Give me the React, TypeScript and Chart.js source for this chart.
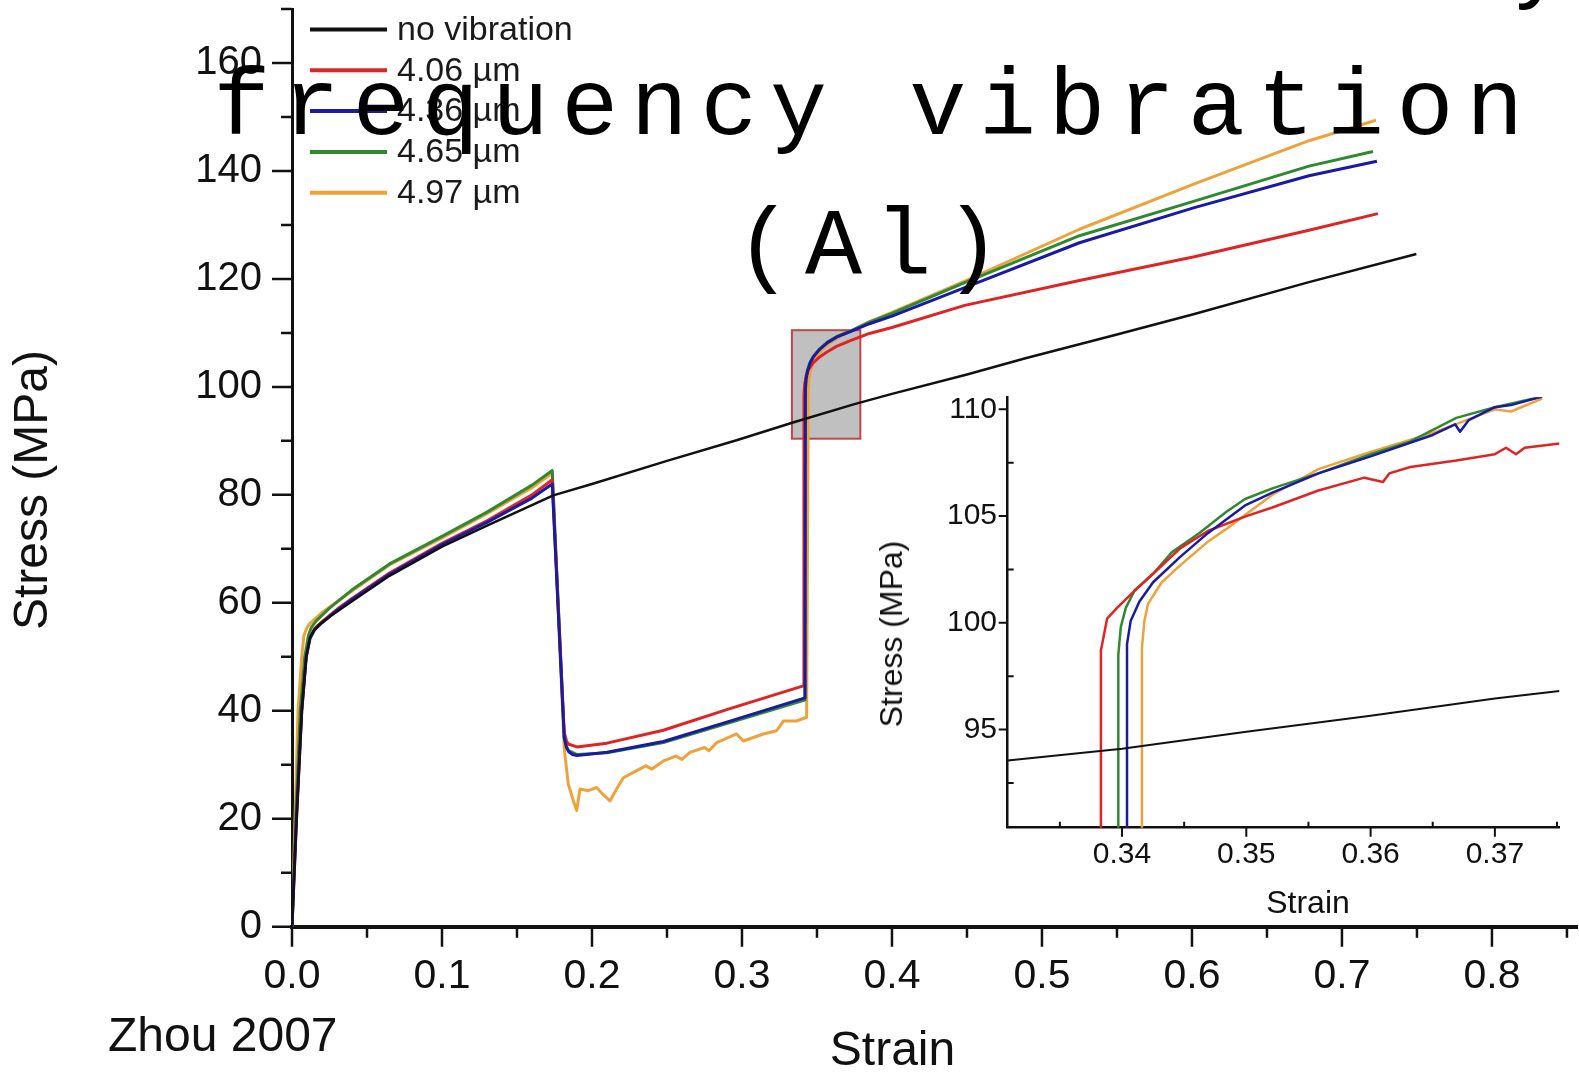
import React, { useEffect, useRef } from 'react';
import { Chart, registerables } from 'chart.js';

Chart.register(...registerables);

// ---------- Main chart data: [strain, stress (MPa)] ----------
const noVibration: [number, number][] = [
  [0, 0], [0.003, 20], [0.0065, 40], [0.0095, 50], [0.012, 53.6], [0.015, 55], [0.018, 55.9], [0.025, 57.4],
  [0.04, 60.3], [0.065, 65], [0.1, 70.4], [0.13, 74.3], [0.1742, 79.9], [0.2, 82], [0.25, 86.3],
  [0.2964, 90.1], [0.334, 93.4], [0.375, 96.8], [0.4, 98.7], [0.45, 102.3], [0.489, 105.3],
  [0.55, 109.7], [0.6016, 113.5], [0.678, 119.4], [0.7496, 124.6],
];
const amp406: [number, number][] = [
  [0, 0], [0.003, 20], [0.0065, 40], [0.0095, 50], [0.012, 53.5], [0.015, 55.2], [0.02, 56.5], [0.03, 58.8],
  [0.04, 60.8], [0.065, 65.5], [0.1, 71], [0.13, 75.2], [0.16, 80], [0.1735, 82.8], [0.1815, 36],
  [0.183, 34.4], [0.1845, 33.8], [0.19, 33.3], [0.21, 34], [0.2476, 36.4], [0.2909, 40.3], [0.3409, 44.6],
  [0.3413, 98.5], [0.3418, 100.5], [0.3428, 102], [0.3445, 103.3], [0.3476, 104.5], [0.352, 105.6],
  [0.3564, 106.4], [0.363, 107.5], [0.3727, 108.6], [0.385, 109.9], [0.4, 111], [0.4485, 115.1],
  [0.525, 119.7], [0.6016, 124.1], [0.678, 129], [0.724, 132.1],
];
const amp436: [number, number][] = [
  [0, 0], [0.003, 20], [0.0065, 40], [0.0095, 50], [0.012, 53.4], [0.015, 55], [0.02, 56.3], [0.03, 58.6],
  [0.04, 60.6], [0.065, 65.3], [0.1, 70.8], [0.13, 74.9], [0.16, 79.4], [0.1735, 82], [0.1815, 35],
  [0.183, 33.2], [0.1845, 32.4], [0.187, 31.9], [0.19, 31.7], [0.21, 32.3], [0.2476, 34.3], [0.2909, 38],
  [0.342, 42.4], [0.3423, 99.5], [0.3428, 101.5], [0.3438, 103], [0.3455, 104.5], [0.348, 105.7],
  [0.352, 107], [0.357, 108.2], [0.363, 109.2], [0.3727, 110.3], [0.385, 111.7], [0.4, 113.1],
  [0.4485, 118.4], [0.525, 126.7], [0.6016, 133.2], [0.678, 139.1], [0.7233, 141.8],
];
const amp465: [number, number][] = [
  [0, 0], [0.0025, 20], [0.0055, 40], [0.0085, 50], [0.011, 54], [0.013, 55.5], [0.016, 56.6], [0.025, 59],
  [0.04, 62.4], [0.065, 67.2], [0.1, 72.3], [0.13, 76.8], [0.16, 81.8], [0.1735, 84.5], [0.1815, 35],
  [0.183, 33.3], [0.1845, 32.6], [0.19, 31.9], [0.21, 32.2], [0.2476, 34.1], [0.2909, 37.7], [0.3418, 42],
  [0.342, 99.3], [0.3425, 101.5], [0.3435, 103], [0.3455, 104.6], [0.348, 105.8], [0.352, 107.1],
  [0.357, 108.3], [0.363, 109.3], [0.3727, 110.4], [0.385, 112], [0.4, 113.6], [0.4485, 119.3],
  [0.525, 128], [0.6016, 134.4], [0.678, 140.9], [0.7207, 143.6],
];
const amp497: [number, number][] = [
  [0, 0], [0.002, 20], [0.004, 40], [0.0065, 50], [0.008, 54], [0.01, 55.4], [0.012, 56.2], [0.02, 58.2],
  [0.04, 62.2], [0.065, 67], [0.1, 72], [0.13, 76.5], [0.16, 81.3], [0.1735, 84], [0.1815, 33],
  [0.1842, 26.4], [0.1876, 23.3], [0.1898, 21.5], [0.192, 25.5], [0.1976, 25.2], [0.2031, 25.8],
  [0.207, 24.6], [0.212, 23.3], [0.2164, 25.5], [0.2209, 27.6], [0.2298, 28.9], [0.236, 29.8],
  [0.24, 29.2], [0.2476, 30.7], [0.256, 31.6], [0.26, 31], [0.2653, 32.3], [0.275, 33.2],
  [0.278, 32.6], [0.2831, 34.1], [0.2964, 35.7], [0.3009, 34.4], [0.3142, 35.7], [0.3231, 36.3],
  [0.3276, 38.1], [0.3364, 38.1], [0.3431, 38.8], [0.3442, 99], [0.3447, 101.5], [0.3457, 103],
  [0.3475, 104.6], [0.35, 105.8], [0.354, 107.1], [0.36, 108.4], [0.366, 109.5], [0.3727, 110.4],
  [0.385, 112.1], [0.4, 113.8], [0.4485, 119.6], [0.525, 129.2], [0.6016, 137.6], [0.678, 145.6],
  [0.7227, 149.4],
];

// ---------- Inset (zoomed) data ----------
const insetNoVibration: [number, number][] = [
  [0.3308, 93.55], [0.34, 94.1], [0.35, 94.9], [0.36, 95.65], [0.37, 96.45], [0.3752, 96.8],
];
const inset406: [number, number][] = [
  [0.3383, 89], [0.3383, 98.7], [0.3388, 100.2], [0.3396, 100.7], [0.341, 101.5], [0.3425, 102.3],
  [0.3447, 103.5], [0.3469, 104.3], [0.35, 105.0], [0.3521, 105.4], [0.3558, 106.2], [0.3595, 106.8],
  [0.361, 106.6], [0.3615, 107.0], [0.3632, 107.3], [0.3669, 107.6], [0.37, 107.9], [0.3709, 108.2],
  [0.3717, 107.9], [0.3724, 108.2], [0.3752, 108.4],
];
const inset436: [number, number][] = [
  [0.3404, 89], [0.3404, 99], [0.3407, 100.1], [0.3414, 101.0], [0.3425, 101.9], [0.3447, 103.1],
  [0.3469, 104.2], [0.3499, 105.5], [0.3521, 106.1], [0.3558, 107.0], [0.36, 107.8], [0.365, 108.8],
  [0.3668, 109.3], [0.3672, 108.95], [0.3679, 109.5], [0.37, 110.1], [0.3713, 110.2], [0.3738, 110.6],
];
const inset465: [number, number][] = [
  [0.3397, 89], [0.3397, 98.5], [0.3399, 99.8], [0.3403, 100.7], [0.341, 101.5], [0.3425, 102.3],
  [0.344, 103.3], [0.3462, 104.2], [0.3484, 105.2], [0.3499, 105.8], [0.3521, 106.3], [0.3558, 107.0],
  [0.36, 107.9], [0.3632, 108.5], [0.3669, 109.6], [0.37, 110.1], [0.3738, 110.6],
];
const inset497: [number, number][] = [
  [0.3416, 89], [0.3416, 98.8], [0.3418, 100.1], [0.3421, 100.9], [0.3432, 101.9], [0.3447, 102.7],
  [0.3469, 103.8], [0.3484, 104.4], [0.35, 105.1], [0.3521, 106.0], [0.3558, 107.2], [0.36, 108.0],
  [0.365, 108.9], [0.37, 110.0], [0.3713, 109.9], [0.3738, 110.5],
];

const seriesLabels = ['no vibration', '4.06 µm', '4.36 µm', '4.65 µm', '4.97 µm'];
const seriesColors = ['#111111', '#de2424', '#1a1aa4', '#2f8a2f', '#eea23c'];
const seriesOrder = [0, 2, 1, 3, 4];

// ---------- Ticks ----------
const xMajorTicks = [0, 0.1, 0.2, 0.3, 0.4, 0.5, 0.6, 0.7, 0.8];
const xMinorTicks = [0.05, 0.15, 0.25, 0.35, 0.45, 0.55, 0.65, 0.75, 0.85];
const yMajorTicks = [0, 20, 40, 60, 80, 100, 120, 140, 160];
const yMinorTicks = [10, 30, 50, 70, 90, 110, 130, 150, 170];
const insetXMajorTicks = [0.34, 0.35, 0.36, 0.37];
const insetXMinorTicks = [0.335, 0.345, 0.355, 0.365, 0.375];
const insetYMajorTicks = [95, 100, 105, 110];
const insetYMinorTicks = [92.5, 97.5, 102.5, 107.5];

// zoom box region shown in the inset
const zoomBoxX = [0.3333, 0.3789];
const zoomBoxY = [90.4, 110.5];

const SANS = "'Liberation Sans', Arial, Helvetica, sans-serif";
const MONO = "'Liberation Mono', 'Courier New', monospace";

const toXY = (arr: [number, number][]) => arr.map(([x, y]) => ({ x, y }));

function zeroPad(s: any) {
  s.paddingTop = 0;
  s.paddingBottom = 0;
  s.paddingLeft = 0;
  s.paddingRight = 0;
}

function tickMarks(spec: any) {
  return {
    id: 'tickMarks',
    afterDraw(chart: any) {
      const { ctx, chartArea, scales } = chart;
      const xs = scales.x;
      const ys = scales.y;
      ctx.save();
      ctx.strokeStyle = '#111';
      ctx.lineWidth = spec.width;
      ctx.beginPath();
      const b = chartArea.bottom;
      const l = chartArea.left;
      for (const v of spec.xMajor) {
        const p = xs.getPixelForValue(v);
        ctx.moveTo(p, b);
        ctx.lineTo(p, b + spec.majorLen);
      }
      for (const v of spec.xMinor) {
        const p = xs.getPixelForValue(v);
        ctx.moveTo(p, b);
        ctx.lineTo(p, spec.minorInside ? b - spec.minorLen : b + spec.minorLen);
      }
      for (const v of spec.yMajor) {
        const p = ys.getPixelForValue(v);
        ctx.moveTo(l, p);
        ctx.lineTo(l - spec.majorLen, p);
      }
      for (const v of spec.yMinor) {
        const p = ys.getPixelForValue(v);
        ctx.moveTo(l, p);
        ctx.lineTo(spec.minorInside ? l + spec.minorLen : l - spec.minorLen, p);
      }
      ctx.stroke();
      ctx.restore();
    },
  };
}

const zoomBoxPlugin = {
  id: 'zoomBox',
  beforeDatasetsDraw(chart: any) {
    const { ctx, scales } = chart;
    const x0 = scales.x.getPixelForValue(zoomBoxX[0]);
    const x1 = scales.x.getPixelForValue(zoomBoxX[1]);
    const y0 = scales.y.getPixelForValue(zoomBoxY[1]);
    const y1 = scales.y.getPixelForValue(zoomBoxY[0]);
    ctx.save();
    ctx.fillStyle = 'rgb(192,192,192)';
    ctx.fillRect(x0, y0, x1 - x0, y1 - y0);
    ctx.strokeStyle = 'rgb(188,72,72)';
    ctx.lineWidth = 2;
    ctx.strokeRect(x0, y0, x1 - x0, y1 - y0);
    ctx.restore();
  },
};

const legendPlugin = {
  id: 'insideLegend',
  afterDraw(chart: any) {
    const { ctx } = chart;
    ctx.save();
    ctx.font = `34px ${SANS}`;
    ctx.textBaseline = 'middle';
    ctx.textAlign = 'left';
    seriesLabels.forEach((label, i) => {
      const y = 29.5 + i * 40.8;
      ctx.strokeStyle = seriesColors[i];
      ctx.lineWidth = 4;
      ctx.beginPath();
      ctx.moveTo(310, y);
      ctx.lineTo(387, y);
      ctx.stroke();
      ctx.fillStyle = '#1a1a1a';
      ctx.fillText(label, 397, y + 1);
    });
    ctx.restore();
  },
};

function makeDatasets(list: [number, number][][], width: number) {
  return list.map((arr, i) => ({
    label: seriesLabels[i],
    data: toXY(arr),
    borderColor: seriesColors[i],
    backgroundColor: seriesColors[i],
    borderWidth: i === 0 ? width - 0.5 : width,
    pointRadius: 0,
    tension: 0,
    fill: false,
    borderJoinStyle: 'round' as const,
    order: seriesOrder[i],
  }));
}

export default function App() {
  const mainRef = useRef<HTMLCanvasElement>(null);
  const insetRef = useRef<HTMLCanvasElement>(null);

  useEffect(() => {
    const main = new Chart(mainRef.current as HTMLCanvasElement, {
      type: 'line',
      data: { datasets: makeDatasets([noVibration, amp406, amp436, amp465, amp497], 3) as any },
      options: {
        responsive: false,
        animation: false,
        events: [],
        layout: { padding: { top: 9, right: 2, left: 0, bottom: 0 } },
        plugins: { legend: { display: false }, tooltip: { enabled: false } },
        scales: {
          x: {
            type: 'linear',
            min: 0,
            max: 0.8567,
            grid: { display: false, drawTicks: false },
            border: { display: true, color: '#111', width: 4 },
            ticks: {
              color: '#111',
              font: { family: SANS, size: 41 },
              padding: 25,
              autoSkip: false,
              maxRotation: 0,
              callback: (v: any) => Number(v).toFixed(1),
            },
            afterBuildTicks: (s: any) => { s.ticks = xMajorTicks.map((value) => ({ value })); },
            afterFit: (s: any) => { s.height = 1073 - 926.7; zeroPad(s); },
          },
          y: {
            type: 'linear',
            min: 0,
            max: 170,
            grid: { display: false, drawTicks: false },
            border: { display: true, color: '#111', width: 3 },
            ticks: {
              color: '#111',
              font: { family: SANS, size: 40 },
              padding: 30,
              autoSkip: false,
              callback: (v: any) => String(v),
            },
            afterBuildTicks: (s: any) => { s.ticks = yMajorTicks.map((value) => ({ value })); },
            afterFit: (s: any) => { s.width = 292; zeroPad(s); },
          },
        },
      },
      plugins: [
        zoomBoxPlugin,
        tickMarks({ xMajor: xMajorTicks, xMinor: xMinorTicks, yMajor: yMajorTicks, yMinor: yMinorTicks, majorLen: 20, minorLen: 11, minorInside: false, width: 2.5 }),
        legendPlugin,
      ],
    } as any);

    const inset = new Chart(insetRef.current as HTMLCanvasElement, {
      type: 'line',
      data: { datasets: makeDatasets([insetNoVibration, inset406, inset436, inset465, inset497], 2.5) as any },
      options: {
        responsive: false,
        animation: false,
        events: [],
        layout: { padding: { top: 17.2, right: 19.5, left: 0, bottom: 0 } },
        plugins: { legend: { display: false }, tooltip: { enabled: false } },
        scales: {
          x: {
            type: 'linear',
            min: 0.3308,
            max: 0.3752,
            grid: { display: false, drawTicks: false },
            border: { display: true, color: '#111', width: 2.5 },
            ticks: {
              color: '#111',
              font: { family: SANS, size: 30 },
              padding: 9,
              autoSkip: false,
              maxRotation: 0,
              callback: (v: any) => Number(v).toFixed(2),
            },
            afterBuildTicks: (s: any) => { s.ticks = insetXMajorTicks.map((value) => ({ value })); },
            afterFit: (s: any) => { s.height = 540 - 447.7; zeroPad(s); },
          },
          y: {
            type: 'linear',
            min: 90.4,
            max: 110.57,
            grid: { display: false, drawTicks: false },
            border: { display: true, color: '#111', width: 2.5 },
            ticks: {
              color: '#111',
              font: { family: SANS, size: 30 },
              padding: 10.7,
              autoSkip: false,
              callback: (v: any) => String(v),
            },
            afterBuildTicks: (s: any) => { s.ticks = insetYMajorTicks.map((value) => ({ value })); },
            afterFit: (s: any) => { s.width = 147.7; zeroPad(s); },
          },
        },
      },
      plugins: [
        tickMarks({ xMajor: insetXMajorTicks, xMinor: insetXMinorTicks, yMajor: insetYMajorTicks, yMinor: insetYMinorTicks, majorLen: 9, minorLen: 6, minorInside: true, width: 2 }),
      ],
    } as any);

    return () => {
      main.destroy();
      inset.destroy();
    };
  }, []);

  const sans = (size: number): React.CSSProperties => ({
    position: 'absolute',
    fontFamily: SANS,
    fontSize: size,
    lineHeight: `${size}px`,
    color: '#111',
    whiteSpace: 'pre',
  });
  const mono: React.CSSProperties = {
    position: 'absolute',
    left: 0,
    width: 1749,
    textAlign: 'center',
    fontFamily: MONO,
    fontSize: 95,
    letterSpacing: '12.6px',
    lineHeight: '140px',
    color: '#000',
    whiteSpace: 'pre',
  };

  return (
    <div style={{ position: 'fixed', left: 0, top: 0, width: 1579, height: 1073, overflow: 'hidden', background: '#fff' }}>
      <canvas ref={mainRef} width={1579} height={1073} style={{ position: 'absolute', left: 0, top: 0 }} />
      <canvas ref={insetRef} width={719} height={540} style={{ position: 'absolute', left: 860, top: 380 }} />

      <div style={{ ...sans(48), left: 31, top: 490, transform: 'translate(-50%, -50%) rotate(-90deg)' }}>Stress (MPa)</div>
      <div style={{ ...sans(48), left: 692.5, width: 400, textAlign: 'center', top: 1025.4 }}>Strain</div>
      <div style={{ ...sans(48), left: 108, top: 1011 }}>Zhou 2007</div>

      <div style={{ ...sans(32), left: 890.5, top: 634, transform: 'translate(-50%, -50%) rotate(-90deg)' }}>Stress (MPa)</div>
      <div style={{ ...sans(32), left: 1108, width: 400, textAlign: 'center', top: 886 }}>Strain</div>

      <div style={{ ...mono, left: 45, top: -105 }}>Stress reduction by</div>
      <div style={{ ...mono, top: 38.7 }}>frequency vibration</div>
      <div style={{ ...mono, top: 178.7 }}>(Al)</div>
    </div>
  );
}
